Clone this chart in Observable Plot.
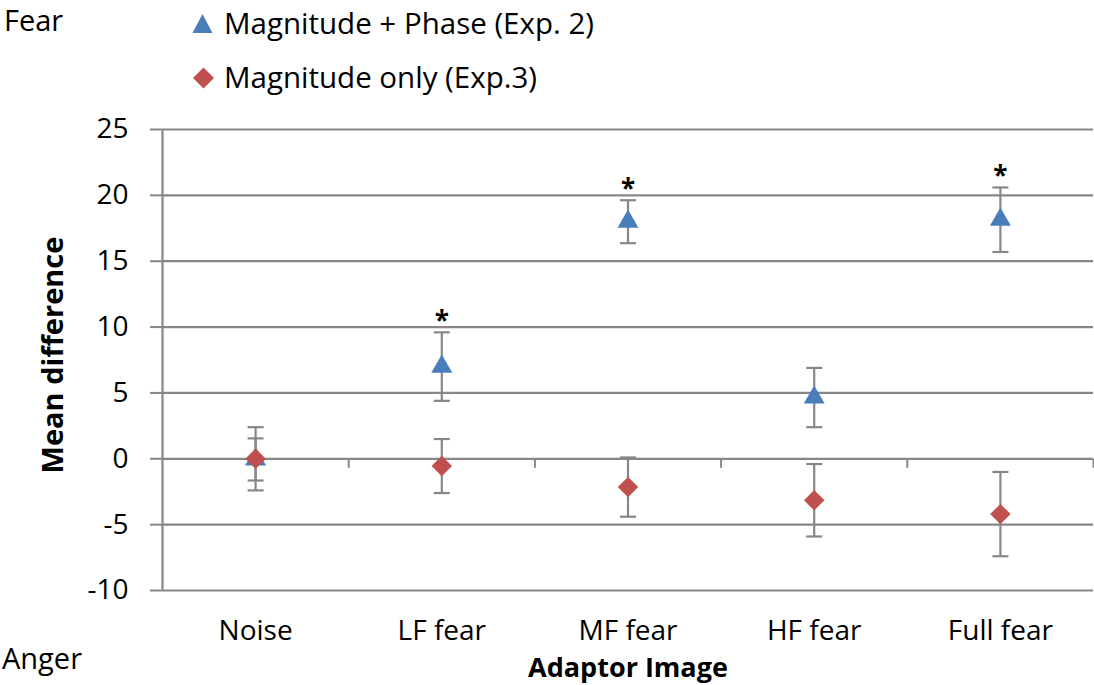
<!DOCTYPE html>
<html>
<head>
<meta charset="utf-8">
<script src="https://cdn.jsdelivr.net/npm/d3@7"></script>
<script src="https://cdn.jsdelivr.net/npm/@observablehq/plot@0.6"></script>
<style>
  body { margin: 0; background: #fff; }
  #wrap { position: relative; width: 1094px; height: 685px; overflow: hidden; font-family: "Open Sans", Lato, sans-serif; color: #000; }
  #wrap > svg { display: block; }
  .lbl { position: absolute; white-space: nowrap; line-height: 1; }
  .sym { position: absolute; }
</style>
</head>
<body>
<div id="wrap"></div>
<script>
// ---- data ----
const categories = ["Noise", "LF fear", "MF fear", "HF fear", "Full fear"];
const exp2Mean = [-0.05, 7.0, 18.0, 4.65, 18.15];
const exp2Err  = [1.6, 2.6, 1.63, 2.25, 2.45];
const exp3Mean = [0.0, -0.55, -2.15, -3.15, -4.2];
const exp3Err  = [2.4, 2.05, 2.25, 2.75, 3.2];
const significant = [false, true, true, false, true];
const yTicks = [-10, -5, 0, 5, 10, 15, 20, 25];
const seriesNames = ["Magnitude + Phase (Exp. 2)", "Magnitude only (Exp.3)"];

const blue = "#4a7ebb";
const red = "#c0504d";
const gray = "#878787";
const font = "'Open Sans', Lato, sans-serif";

const exp2 = categories.map((c, i) => ({cat: c, x: i + 0.5, y: exp2Mean[i], lo: exp2Mean[i] - exp2Err[i], hi: exp2Mean[i] + exp2Err[i], sig: significant[i]}));
const exp3 = categories.map((c, i) => ({cat: c, x: i + 0.5, y: exp3Mean[i], lo: exp3Mean[i] - exp3Err[i], hi: exp3Mean[i] + exp3Err[i]}));
const boundaries = categories.map((c, i) => i + 1);

// custom pixel-sized stroke symbols
const capSymbol = {draw(ctx) { ctx.moveTo(-8, 0); ctx.lineTo(8, 0); }};
const tickDown = {draw(ctx) { ctx.moveTo(0, 0); ctx.lineTo(0, 9); }};

const chart = Plot.plot({
  width: 1094,
  height: 685,
  marginLeft: 162,
  marginRight: 1,
  marginTop: 129,
  marginBottom: 95,
  style: {fontFamily: font, fontSize: "28px", color: "#000", background: "#fff", overflow: "visible"},
  x: {domain: [0, categories.length]},
  y: {domain: [-10, 25]},
  marks: [
    Plot.ruleY(yTicks, {stroke: gray, strokeWidth: 2.2}),
    Plot.ruleX([0], {y1: -10, y2: 25, stroke: gray, strokeWidth: 2.2}),
    Plot.dot(boundaries, {x: d => d, y: 0, symbol: tickDown, r: 5, fill: "none", stroke: gray, strokeWidth: 2}),
    Plot.axisY({ticks: yTicks, tickSize: 12, tickPadding: 22, stroke: gray, strokeWidth: 2, fontSize: 28, tickFormat: d => d, label: null}),
    Plot.axisX({ticks: exp2.map(d => d.x), tickSize: 0, tickPadding: 30, fontSize: 28, tickFormat: (d, i) => categories[i], label: null}),
    // exp2 error bars + markers
    Plot.ruleX(exp2, {x: "x", y1: "lo", y2: "hi", stroke: gray, strokeWidth: 2.2}),
    Plot.dot(exp2, {x: "x", y: "lo", symbol: capSymbol, fill: "none", stroke: gray, strokeWidth: 2.2}),
    Plot.dot(exp2, {x: "x", y: "hi", symbol: capSymbol, fill: "none", stroke: gray, strokeWidth: 2.2}),
    Plot.dot(exp2, {x: "x", y: "y", symbol: "triangle", r: 7.8, fill: blue, stroke: "none"}),
    // exp3 error bars + markers
    Plot.ruleX(exp3, {x: "x", y1: "lo", y2: "hi", stroke: gray, strokeWidth: 2.2}),
    Plot.dot(exp3, {x: "x", y: "lo", symbol: capSymbol, fill: "none", stroke: gray, strokeWidth: 2.2}),
    Plot.dot(exp3, {x: "x", y: "hi", symbol: capSymbol, fill: "none", stroke: gray, strokeWidth: 2.2}),
    Plot.dot(exp3, {x: "x", y: "y", symbol: "diamond2", r: 9.2, fill: red, stroke: "none"}),
    // significance stars
    Plot.text(exp2.filter(d => d.sig), {x: "x", y: "hi", text: () => "*", dy: -11, fontSize: 26, fontWeight: "bold", lineAnchor: "middle", fill: "#000"})
  ]
});

const wrap = document.getElementById("wrap");
wrap.appendChild(chart);

// place text by its baseline (line-height 1: baseline sits 0.888em below the box top for Open Sans)
function addLabel(text, {x, baseline, size = 29, bold = false, anchor = "start", rotate = false}) {
  const d = document.createElement("div");
  d.className = "lbl";
  d.textContent = text;
  d.style.fontSize = size + "px";
  if (bold) d.style.fontWeight = "bold";
  if (rotate) {
    d.style.left = (x - 0.388 * size) + "px";
    d.style.top = baseline + "px";
    d.style.transform = "translate(-50%,-50%) rotate(-90deg)";
  } else {
    d.style.left = x + "px";
    d.style.top = (baseline - 0.888 * size) + "px";
    if (anchor === "middle") d.style.transform = "translateX(-50%)";
  }
  wrap.appendChild(d);
}
addLabel("Fear", {x: 4, baseline: 31});
addLabel("Anger", {x: 2, baseline: 669});
addLabel("Adaptor Image", {x: 628, baseline: 677, size: 27, bold: true, anchor: "middle"});
addLabel("Mean difference", {x: 62, baseline: 355, bold: true, rotate: true});

function addSymbol(shape, color, left, top) {
  const s = document.createElementNS("http://www.w3.org/2000/svg", "svg");
  s.setAttribute("class", "sym");
  s.setAttribute("width", 22); s.setAttribute("height", 22);
  s.style.left = left + "px"; s.style.top = top + "px";
  const p = document.createElementNS("http://www.w3.org/2000/svg", "path");
  p.setAttribute("d", shape === "triangle" ? "M10.5,1L20.5,20L0.5,20Z" : "M10.5,0.5L21,11L10.5,21.5L0,11Z");
  p.setAttribute("fill", color);
  s.appendChild(p);
  wrap.appendChild(s);
}
addSymbol("triangle", blue, 192, 13);
addLabel(seriesNames[0], {x: 224, baseline: 34, size: 29.5});
addSymbol("diamond", red, 193, 67);
addLabel(seriesNames[1], {x: 224, baseline: 88, size: 29.5});
</script>
</body>
</html>
